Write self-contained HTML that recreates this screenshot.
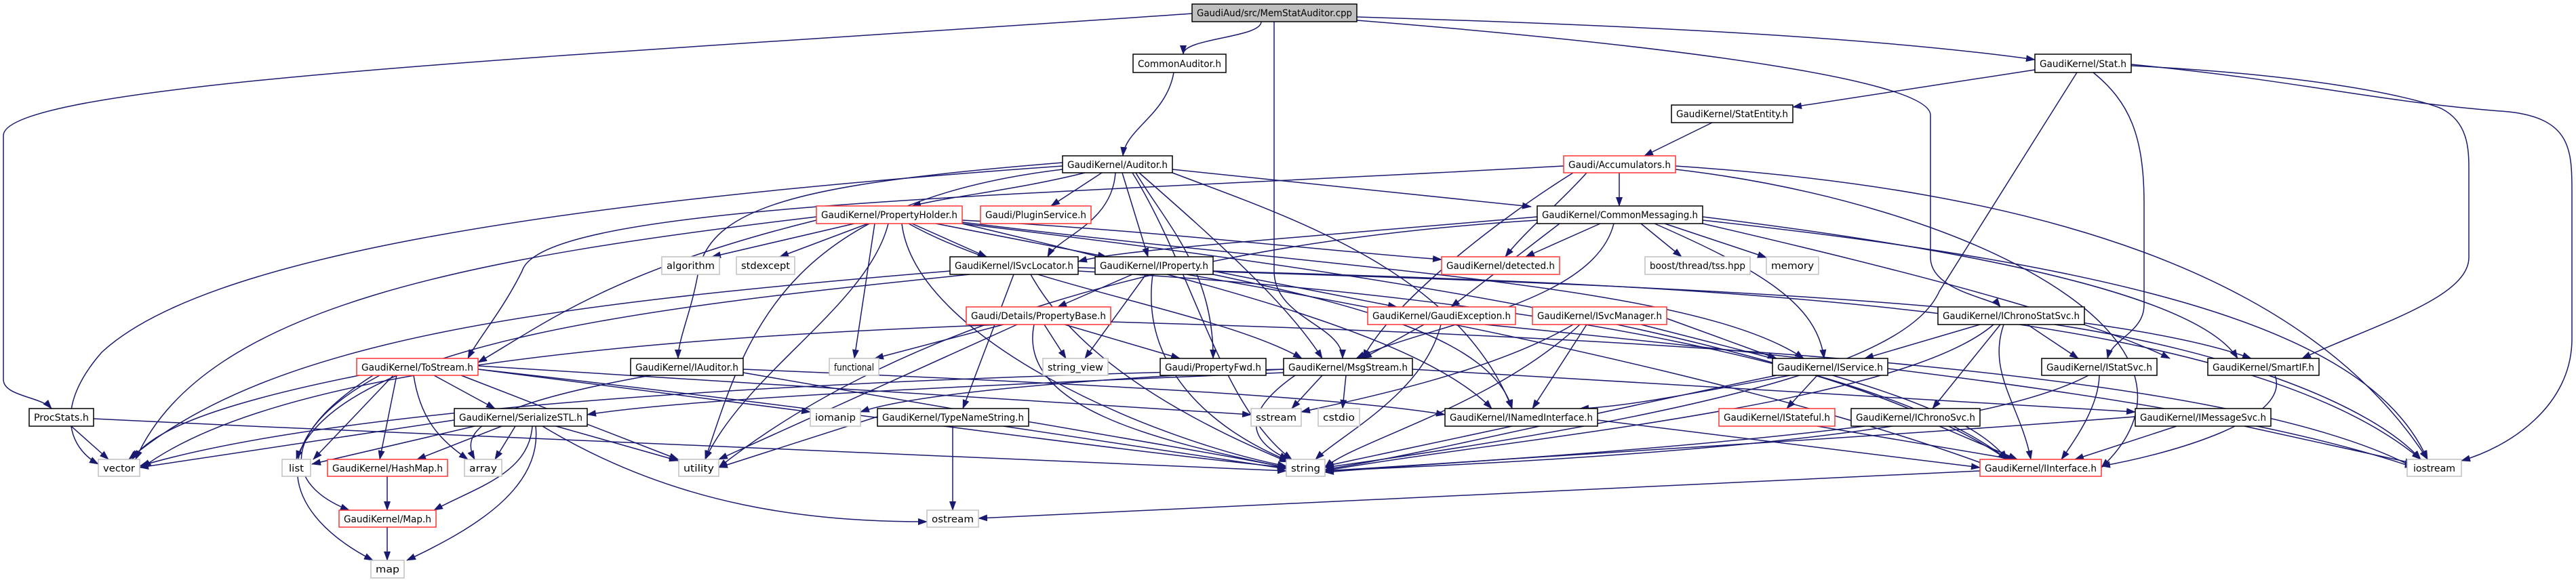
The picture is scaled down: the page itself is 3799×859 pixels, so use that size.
<!DOCTYPE html>
<html><head><meta charset="utf-8"><style>
html,body{margin:0;padding:0;background:#fff;}
svg{display:block;}
text{font-family:"DejaVu Sans","Liberation Sans",sans-serif;font-size:14px;fill:#000;}
.e path{fill:none;stroke:#191970;stroke-width:1.5;}
.n rect{fill:#fff;stroke:#000;stroke-width:1.5;}
.n rect.r{stroke:#ff3333;}
.n rect.g{stroke:#c0c0c0;}
</style></head><body>
<svg width="3799" height="859" viewBox="0 0 3799 859" xmlns="http://www.w3.org/2000/svg">
<defs><marker id="a" markerWidth="14" markerHeight="12" refX="13" refY="5" orient="auto" markerUnits="userSpaceOnUse"><polygon points="0,0 14,5 0,10" fill="#191970"/></marker></defs>
<g class="e" marker-end="url(#a)">
<path d="M1860 32 C1860 56,1745 56,1745 80" marker-end="url(#a)"/>
<path d="M1879 32 L1879 400 C1879 470,1980 480,1980 529" marker-end="url(#a)"/>
<path d="M2001 25 C2500 40,2800 60,3001 88" marker-end="url(#a)"/>
<path d="M2001 30 C2500 70,2847 120,2847 170 L2847 380 C2847 430,2940 440,2950 453" marker-end="url(#a)"/>
<path d="M1758 20 C900 80,5 120,5 200 L5 560 C5 585,60 585,76 603" marker-end="url(#a)"/>
<path d="M1731 107 C1720 170,1660 190,1656 230" marker-end="url(#a)"/>
<path d="M2525 181 L2425 230" marker-end="url(#a)"/>
<path d="M3001 103 L2644 158" marker-end="url(#a)"/>
<path d="M3087 107 C3140 150,3162 200,3162 300 L3162 450 C3162 490,3115 500,3108 529" marker-end="url(#a)"/>
<path d="M3063 107 L2860 430 C2820 520,2600 600,1954 690" marker-end="url(#a)"/>
<path d="M3143 97 C3400 110,3550 140,3600 160 C3640 180,3641 220,3641 250 L3641 380 C3641 440,3500 480,3395 529" marker-end="url(#a)"/>
<path d="M3143 95 C3400 120,3500 150,3700 165 C3790 175,3793 220,3793 280 L3793 500 C3793 600,3700 660,3630 680" marker-end="url(#a)"/>
<path d="M1600 255 C1500 280,1400 290,1345 304" marker-end="url(#a)"/>
<path d="M1625 255 L1550 304" marker-end="url(#a)"/>
<path d="M1645 255 C1640 330,1560 350,1545 379" marker-end="url(#a)"/>
<path d="M1655 255 L1693 379" marker-end="url(#a)"/>
<path d="M1729 250 L2258 305" marker-end="url(#a)"/>
<path d="M1567 240 C1200 270,1050 300,1030 400 C1020 460,1000 500,1000 529" marker-end="url(#a)"/>
<path d="M1567 245 C800 300,300 380,150 520 C80 600,100 660,145 685" marker-end="url(#a)"/>
<path d="M1670 255 C1760 400,1800 600,1905 678" marker-end="url(#a)"/>
<path d="M1567 250 C1150 300,1100 500,1040 678" marker-end="url(#a)"/>
<path d="M1675 255 C1720 330,1790 400,1789 529" marker-end="url(#a)"/>
<path d="M1680 255 C1800 360,1900 450,1950 529" marker-end="url(#a)"/>
<path d="M1729 255 C1900 320,2150 400,2230 603" marker-end="url(#a)"/>
<path d="M1260 330 L1050 379" marker-end="url(#a)"/>
<path d="M1280 330 L1150 379" marker-end="url(#a)"/>
<path d="M1345 330 L1455 379" marker-end="url(#a)"/>
<path d="M1380 330 L1632 379" marker-end="url(#a)"/>
<path d="M1419 325 C1700 340,1950 370,2126 383" marker-end="url(#a)"/>
<path d="M1310 330 C1280 450,1100 550,1040 678" marker-end="url(#a)"/>
<path d="M1204 320 C700 380,300 450,200 678" marker-end="url(#a)"/>
<path d="M1290 330 L1260 529" marker-end="url(#a)"/>
<path d="M1330 330 C1350 500,1700 650,1897 688" marker-end="url(#a)"/>
<path d="M1340 330 C1500 420,1800 460,1920 529" marker-end="url(#a)"/>
<path d="M1419 328 C2000 400,2500 420,2660 529" marker-end="url(#a)"/>
<path d="M1419 330 C1800 420,2100 500,2200 603" marker-end="url(#a)"/>
<path d="M1419 330 C2000 400,2700 500,2960 678" marker-end="url(#a)"/>
<path d="M1204 325 C900 400,800 480,705 535" marker-end="url(#a)"/>
<path d="M2388 255 L2388 304" marker-end="url(#a)"/>
<path d="M2340 255 C2300 300,2250 340,2220 379" marker-end="url(#a)"/>
<path d="M2320 255 C2200 330,2050 450,2010 529" marker-end="url(#a)"/>
<path d="M2471 245 C3000 280,3400 400,3580 678" marker-end="url(#a)"/>
<path d="M2306 245 C1500 290,800 300,770 400 C740 460,705 500,690 529" marker-end="url(#a)"/>
<path d="M2471 250 C2900 300,3300 500,3099 690" marker-end="url(#a)"/>
<path d="M2360 330 L2250 379" marker-end="url(#a)"/>
<path d="M2420 330 L2480 379" marker-end="url(#a)"/>
<path d="M2455 330 L2605 380" marker-end="url(#a)"/>
<path d="M2380 330 C2350 450,2100 480,2000 529" marker-end="url(#a)"/>
<path d="M2300 330 L2140 453" marker-end="url(#a)"/>
<path d="M2440 330 C2600 400,2680 450,2690 529" marker-end="url(#a)"/>
<path d="M2511 320 C3000 380,3250 450,3300 529" marker-end="url(#a)"/>
<path d="M2511 325 C3200 400,3500 500,3580 678" marker-end="url(#a)"/>
<path d="M2267 320 C1800 360,1650 370,1590 386" marker-end="url(#a)"/>
<path d="M2267 325 C1700 360,1300 500,1060 690" marker-end="url(#a)"/>
<path d="M2511 330 C2900 420,3100 480,3200 529" marker-end="url(#a)"/>
<path d="M1430 405 C1000 450,500 500,437 678" marker-end="url(#a)"/>
<path d="M1520 405 C1600 550,1800 640,1900 682" marker-end="url(#a)"/>
<path d="M1495 405 L1420 603" marker-end="url(#a)"/>
<path d="M1590 395 C2500 420,3100 450,3320 529" marker-end="url(#a)"/>
<path d="M1590 400 C2300 440,2800 550,2960 678" marker-end="url(#a)"/>
<path d="M1401 400 C800 450,400 500,190 678" marker-end="url(#a)"/>
<path d="M1670 405 L1560 453" marker-end="url(#a)"/>
<path d="M1690 405 L1600 529" marker-end="url(#a)"/>
<path d="M1700 405 C1680 550,1800 640,1900 680" marker-end="url(#a)"/>
<path d="M1789 400 L2060 453" marker-end="url(#a)"/>
<path d="M1789 405 C2000 450,2200 500,2230 603" marker-end="url(#a)"/>
<path d="M1789 400 C2500 420,3300 450,3570 678" marker-end="url(#a)"/>
<path d="M1750 405 C2300 500,2700 600,2940 690" marker-end="url(#a)"/>
<path d="M1540 479 L1572 529" marker-end="url(#a)"/>
<path d="M1570 479 L1740 529" marker-end="url(#a)"/>
<path d="M1525 479 C1500 600,1700 650,1897 690" marker-end="url(#a)"/>
<path d="M1500 479 L1060 678" marker-end="url(#a)"/>
<path d="M1480 479 C900 500,400 550,210 690" marker-end="url(#a)"/>
<path d="M1480 479 L1290 529" marker-end="url(#a)"/>
<path d="M1638 475 C2500 500,3300 550,3560 690" marker-end="url(#a)"/>
<path d="M2100 479 L2010 529" marker-end="url(#a)"/>
<path d="M2125 479 C2100 580,1980 640,1940 678" marker-end="url(#a)"/>
<path d="M2190 479 C2800 540,3300 600,3560 690" marker-end="url(#a)"/>
<path d="M2458 470 L2620 529" marker-end="url(#a)"/>
<path d="M2340 479 L2260 603" marker-end="url(#a)"/>
<path d="M2330 479 C2200 600,2000 650,1954 690" marker-end="url(#a)"/>
<path d="M2320 479 C2200 550,2000 590,1919 608" marker-end="url(#a)"/>
<path d="M2420 479 C2700 550,2900 600,2960 678" marker-end="url(#a)"/>
<path d="M2920 479 L2750 529" marker-end="url(#a)"/>
<path d="M2990 479 L3065 529" marker-end="url(#a)"/>
<path d="M2950 479 L2850 603" marker-end="url(#a)"/>
<path d="M2955 479 C2930 550,2980 600,2995 678" marker-end="url(#a)"/>
<path d="M2940 479 C2800 600,2200 650,1954 695" marker-end="url(#a)"/>
<path d="M3030 479 C3300 520,3500 600,3570 678" marker-end="url(#a)"/>
<path d="M2640 554 C2500 580,2400 600,2330 603" marker-end="url(#a)"/>
<path d="M2680 554 L2635 603" marker-end="url(#a)"/>
<path d="M2620 554 C2300 620,2100 670,1954 693" marker-end="url(#a)"/>
<path d="M3096 554 C3095 600,3060 650,3040 678" marker-end="url(#a)"/>
<path d="M3080 554 C2900 650,2300 680,1954 695" marker-end="url(#a)"/>
<path d="M3355 554 C3380 620,3200 670,3099 688" marker-end="url(#a)"/>
<path d="M2680 629 L2970 678" marker-end="url(#a)"/>
<path d="M2860 629 L2975 678" marker-end="url(#a)"/>
<path d="M2750 629 C2500 660,2200 680,1954 695" marker-end="url(#a)"/>
<path d="M3210 629 L3060 678" marker-end="url(#a)"/>
<path d="M3310 629 L3560 684" marker-end="url(#a)"/>
<path d="M3149 615 C2700 650,2300 670,1954 697" marker-end="url(#a)"/>
<path d="M2356 620 L2920 690" marker-end="url(#a)"/>
<path d="M2230 629 L1954 688" marker-end="url(#a)"/>
<path d="M2920 695 L1443 765" marker-end="url(#a)"/>
<path d="M1950 554 L1905 603" marker-end="url(#a)"/>
<path d="M1985 554 L1980 603" marker-end="url(#a)"/>
<path d="M1910 554 C1830 610,1840 650,1900 678" marker-end="url(#a)"/>
<path d="M1893 545 C1600 560,1350 580,1269 608" marker-end="url(#a)"/>
<path d="M2083 545 C2500 570,2900 590,3149 608" marker-end="url(#a)"/>
<path d="M1893 550 C1400 570,1000 590,866 612" marker-end="url(#a)"/>
<path d="M1893 545 C1200 560,500 600,206 688" marker-end="url(#a)"/>
<path d="M640 554 L730 603" marker-end="url(#a)"/>
<path d="M530 554 C300 600,220 640,195 678" marker-end="url(#a)"/>
<path d="M580 554 L462 678" marker-end="url(#a)"/>
<path d="M585 554 L560 678" marker-end="url(#a)"/>
<path d="M610 554 C620 620,650 650,690 678" marker-end="url(#a)"/>
<path d="M550 554 C400 650,430 720,515 753" marker-end="url(#a)"/>
<path d="M560 554 C380 650,420 760,550 827" marker-end="url(#a)"/>
<path d="M705 545 C1200 600,1600 660,1897 690" marker-end="url(#a)"/>
<path d="M705 545 L1195 608" marker-end="url(#a)"/>
<path d="M705 540 L1845 612" marker-end="url(#a)"/>
<path d="M680 554 L1000 678" marker-end="url(#a)"/>
<path d="M670 620 L206 690" marker-end="url(#a)"/>
<path d="M700 629 L460 685" marker-end="url(#a)"/>
<path d="M740 629 L615 678" marker-end="url(#a)"/>
<path d="M760 629 L730 678" marker-end="url(#a)"/>
<path d="M785 629 C780 700,700 720,640 753" marker-end="url(#a)"/>
<path d="M790 629 C800 720,700 780,600 827" marker-end="url(#a)"/>
<path d="M820 629 L1000 680" marker-end="url(#a)"/>
<path d="M800 629 C1000 750,1200 770,1367 770" marker-end="url(#a)"/>
<path d="M571 703 L571 753" marker-end="url(#a)"/>
<path d="M571 778 L571 827" marker-end="url(#a)"/>
<path d="M1405 629 L1405 753" marker-end="url(#a)"/>
<path d="M1480 629 L1897 692" marker-end="url(#a)"/>
<path d="M1294 615 L1060 690" marker-end="url(#a)"/>
<path d="M1096 545 C1700 570,2000 590,2131 612" marker-end="url(#a)"/>
<path d="M1096 550 C1500 620,1800 670,1897 690" marker-end="url(#a)"/>
<path d="M960 554 C700 600,680 640,700 678" marker-end="url(#a)"/>
<path d="M105 629 L160 678" marker-end="url(#a)"/>
<path d="M138 618 C800 650,1500 680,1897 695" marker-end="url(#a)"/>
</g>
<g class="n">
<rect x="1758" y="6" width="243" height="26" style="fill:#bfbfbf"/><text x="1879.5" y="24" text-anchor="middle" textLength="229" lengthAdjust="spacingAndGlyphs">GaudiAud/src/MemStatAuditor.cpp</text>
<rect x="1671" y="80" width="137" height="27"/><text x="1739.5" y="99" text-anchor="middle" textLength="123" lengthAdjust="spacingAndGlyphs">CommonAuditor.h</text>
<rect x="3001" y="80" width="142" height="27"/><text x="3072" y="99" text-anchor="middle" textLength="128" lengthAdjust="spacingAndGlyphs">GaudiKernel/Stat.h</text>
<rect x="2465" y="155" width="179" height="26"/><text x="2554.5" y="173" text-anchor="middle" textLength="165" lengthAdjust="spacingAndGlyphs">GaudiKernel/StatEntity.h</text>
<rect x="1567" y="230" width="162" height="25"/><text x="1648" y="248" text-anchor="middle" textLength="148" lengthAdjust="spacingAndGlyphs">GaudiKernel/Auditor.h</text>
<rect class="r" x="2306" y="230" width="165" height="25"/><text x="2388.5" y="248" text-anchor="middle" textLength="151" lengthAdjust="spacingAndGlyphs">Gaudi/Accumulators.h</text>
<rect class="r" x="1204" y="304" width="215" height="26"/><text x="1311.5" y="322" text-anchor="middle" textLength="201" lengthAdjust="spacingAndGlyphs">GaudiKernel/PropertyHolder.h</text>
<rect class="r" x="1446" y="304" width="163" height="26"/><text x="1527.5" y="322" text-anchor="middle" textLength="149" lengthAdjust="spacingAndGlyphs">Gaudi/PluginService.h</text>
<rect x="2267" y="304" width="244" height="26"/><text x="2389" y="322" text-anchor="middle" textLength="230" lengthAdjust="spacingAndGlyphs">GaudiKernel/CommonMessaging.h</text>
<rect class="g" x="976" y="379" width="85" height="26"/><text x="1018.5" y="397" text-anchor="middle" textLength="71" lengthAdjust="spacingAndGlyphs">algorithm</text>
<rect class="g" x="1086" y="379" width="86" height="26"/><text x="1129" y="397" text-anchor="middle" textLength="72" lengthAdjust="spacingAndGlyphs">stdexcept</text>
<rect x="1401" y="379" width="189" height="26"/><text x="1495.5" y="397" text-anchor="middle" textLength="175" lengthAdjust="spacingAndGlyphs">GaudiKernel/ISvcLocator.h</text>
<rect x="1615" y="379" width="174" height="26"/><text x="1702" y="397" text-anchor="middle" textLength="160" lengthAdjust="spacingAndGlyphs">GaudiKernel/IProperty.h</text>
<rect class="r" x="2126" y="379" width="174" height="26"/><text x="2213" y="397" text-anchor="middle" textLength="160" lengthAdjust="spacingAndGlyphs">GaudiKernel/detected.h</text>
<rect class="g" x="2426" y="379" width="155" height="26"/><text x="2503.5" y="397" text-anchor="middle" textLength="141" lengthAdjust="spacingAndGlyphs">boost/thread/tss.hpp</text>
<rect class="g" x="2605" y="379" width="77" height="26"/><text x="2643.5" y="397" text-anchor="middle" textLength="63" lengthAdjust="spacingAndGlyphs">memory</text>
<rect class="r" x="1425" y="453" width="213" height="26"/><text x="1531.5" y="471" text-anchor="middle" textLength="199" lengthAdjust="spacingAndGlyphs">Gaudi/Details/PropertyBase.h</text>
<rect class="r" x="2017" y="453" width="218" height="26"/><text x="2126" y="471" text-anchor="middle" textLength="204" lengthAdjust="spacingAndGlyphs">GaudiKernel/GaudiException.h</text>
<rect class="r" x="2260" y="453" width="198" height="26"/><text x="2359" y="471" text-anchor="middle" textLength="184" lengthAdjust="spacingAndGlyphs">GaudiKernel/ISvcManager.h</text>
<rect x="2858" y="453" width="216" height="26"/><text x="2966" y="471" text-anchor="middle" textLength="202" lengthAdjust="spacingAndGlyphs">GaudiKernel/IChronoStatSvc.h</text>
<rect class="r" x="526" y="529" width="179" height="25"/><text x="615.5" y="547" text-anchor="middle" textLength="165" lengthAdjust="spacingAndGlyphs">GaudiKernel/ToStream.h</text>
<rect x="930" y="529" width="166" height="25"/><text x="1013" y="547" text-anchor="middle" textLength="152" lengthAdjust="spacingAndGlyphs">GaudiKernel/IAuditor.h</text>
<rect class="g" x="1223" y="529" width="73" height="25"/><text x="1259.5" y="547" text-anchor="middle" textLength="59" lengthAdjust="spacingAndGlyphs">functional</text>
<rect class="g" x="1538" y="529" width="96" height="25"/><text x="1586" y="547" text-anchor="middle" textLength="82" lengthAdjust="spacingAndGlyphs">string_view</text>
<rect x="1711" y="529" width="156" height="25"/><text x="1789" y="547" text-anchor="middle" textLength="142" lengthAdjust="spacingAndGlyphs">Gaudi/PropertyFwd.h</text>
<rect x="1893" y="529" width="190" height="25"/><text x="1988" y="547" text-anchor="middle" textLength="176" lengthAdjust="spacingAndGlyphs">GaudiKernel/MsgStream.h</text>
<rect x="2614" y="529" width="170" height="25"/><text x="2699" y="547" text-anchor="middle" textLength="156" lengthAdjust="spacingAndGlyphs">GaudiKernel/IService.h</text>
<rect x="3011" y="529" width="170" height="25"/><text x="3096" y="547" text-anchor="middle" textLength="156" lengthAdjust="spacingAndGlyphs">GaudiKernel/IStatSvc.h</text>
<rect x="3256" y="529" width="164" height="25"/><text x="3338" y="547" text-anchor="middle" textLength="150" lengthAdjust="spacingAndGlyphs">GaudiKernel/SmartIF.h</text>
<rect x="43" y="603" width="95" height="26"/><text x="90.5" y="621" text-anchor="middle" textLength="81" lengthAdjust="spacingAndGlyphs">ProcStats.h</text>
<rect x="670" y="603" width="196" height="26"/><text x="768" y="621" text-anchor="middle" textLength="182" lengthAdjust="spacingAndGlyphs">GaudiKernel/SerializeSTL.h</text>
<rect class="g" x="1195" y="603" width="74" height="26"/><text x="1232" y="621" text-anchor="middle" textLength="60" lengthAdjust="spacingAndGlyphs">iomanip</text>
<rect x="1294" y="603" width="223" height="26"/><text x="1405.5" y="621" text-anchor="middle" textLength="209" lengthAdjust="spacingAndGlyphs">GaudiKernel/TypeNameString.h</text>
<rect class="g" x="1845" y="603" width="74" height="26"/><text x="1882" y="621" text-anchor="middle" textLength="60" lengthAdjust="spacingAndGlyphs">sstream</text>
<rect class="g" x="1944" y="603" width="61" height="26"/><text x="1974.5" y="621" text-anchor="middle" textLength="47" lengthAdjust="spacingAndGlyphs">cstdio</text>
<rect x="2131" y="603" width="225" height="26"/><text x="2243.5" y="621" text-anchor="middle" textLength="211" lengthAdjust="spacingAndGlyphs">GaudiKernel/INamedInterface.h</text>
<rect class="r" x="2535" y="603" width="171" height="26"/><text x="2620.5" y="621" text-anchor="middle" textLength="157" lengthAdjust="spacingAndGlyphs">GaudiKernel/IStateful.h</text>
<rect x="2730" y="603" width="190" height="26"/><text x="2825" y="621" text-anchor="middle" textLength="176" lengthAdjust="spacingAndGlyphs">GaudiKernel/IChronoSvc.h</text>
<rect x="3149" y="603" width="200" height="26"/><text x="3249" y="621" text-anchor="middle" textLength="186" lengthAdjust="spacingAndGlyphs">GaudiKernel/IMessageSvc.h</text>
<rect class="g" x="145" y="678" width="61" height="25"/><text x="175.5" y="696" text-anchor="middle" textLength="47" lengthAdjust="spacingAndGlyphs">vector</text>
<rect class="g" x="416" y="678" width="42" height="25"/><text x="437" y="696" text-anchor="middle" textLength="22" lengthAdjust="spacingAndGlyphs">list</text>
<rect class="r" x="483" y="678" width="177" height="25"/><text x="571.5" y="696" text-anchor="middle" textLength="163" lengthAdjust="spacingAndGlyphs">GaudiKernel/HashMap.h</text>
<rect class="g" x="685" y="678" width="55" height="25"/><text x="712.5" y="696" text-anchor="middle" textLength="41" lengthAdjust="spacingAndGlyphs">array</text>
<rect class="g" x="1001" y="678" width="59" height="25"/><text x="1030.5" y="696" text-anchor="middle" textLength="45" lengthAdjust="spacingAndGlyphs">utility</text>
<rect class="g" x="1897" y="678" width="57" height="25"/><text x="1925.5" y="696" text-anchor="middle" textLength="43" lengthAdjust="spacingAndGlyphs">string</text>
<rect class="r" x="2920" y="678" width="179" height="25"/><text x="3009.5" y="696" text-anchor="middle" textLength="165" lengthAdjust="spacingAndGlyphs">GaudiKernel/IInterface.h</text>
<rect class="g" x="3550" y="678" width="80" height="25"/><text x="3590" y="696" text-anchor="middle" textLength="62" lengthAdjust="spacingAndGlyphs">iostream</text>
<rect class="r" x="500" y="753" width="143" height="25"/><text x="571.5" y="771" text-anchor="middle" textLength="129" lengthAdjust="spacingAndGlyphs">GaudiKernel/Map.h</text>
<rect class="g" x="1367" y="753" width="76" height="25"/><text x="1405" y="771" text-anchor="middle" textLength="62" lengthAdjust="spacingAndGlyphs">ostream</text>
<rect class="g" x="547" y="827" width="49" height="26"/><text x="571.5" y="845" text-anchor="middle" textLength="35" lengthAdjust="spacingAndGlyphs">map</text>
</g>
</svg>
</body></html>
